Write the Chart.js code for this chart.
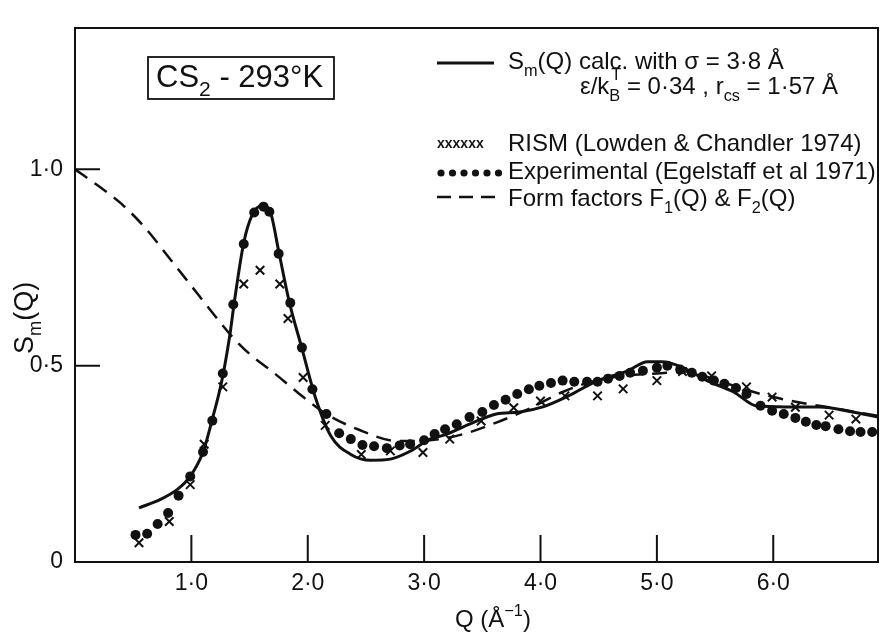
<!DOCTYPE html>
<html>
<head>
<meta charset="utf-8">
<title>CS2 - 293 K structure factor</title>
<script src="https://cdn.jsdelivr.net/npm/chart.js@4.4.1/dist/chart.umd.min.js"></script>
<style>
  html, body { margin: 0; padding: 0; background: #fff; }
  canvas { display: block; }
</style>
</head>
<body>
<canvas id="sqChart" width="886" height="632"></canvas>
<script>
// S_m(Q) of liquid CS2 at 293 K: calculation, RISM, experiment and form factors

const calcQ = [0.55, 0.73, 0.88, 0.99, 1.10, 1.18, 1.26, 1.33, 1.37, 1.45, 1.52, 1.61, 1.68, 1.75, 1.84, 1.95, 2.07, 2.20, 2.37, 2.54, 2.71, 2.88, 3.05, 3.17, 3.39, 3.62, 3.82, 4.02, 4.24, 4.47, 4.75, 4.92, 5.04, 5.21, 5.43, 5.66, 5.86, 6.11, 6.40, 6.68, 6.90];
const calcS = [0.138, 0.159, 0.185, 0.218, 0.28, 0.364, 0.459, 0.577, 0.664, 0.813, 0.882, 0.908, 0.89, 0.792, 0.664, 0.544, 0.415, 0.32, 0.274, 0.259, 0.262, 0.282, 0.313, 0.323, 0.351, 0.377, 0.382, 0.395, 0.423, 0.459, 0.487, 0.51, 0.51, 0.497, 0.462, 0.433, 0.397, 0.395, 0.395, 0.382, 0.369];

const rismQ = [0.55, 0.81, 0.99, 1.11, 1.27, 1.45, 1.59, 1.76, 1.83, 1.96, 2.15, 2.46, 2.71, 2.99, 3.22, 3.49, 3.77, 4.00, 4.21, 4.49, 4.71, 5.00, 5.22, 5.47, 5.77, 5.99, 6.19, 6.48, 6.71];
const rismS = [0.049, 0.103, 0.197, 0.30, 0.446, 0.708, 0.743, 0.708, 0.62, 0.47, 0.348, 0.274, 0.283, 0.279, 0.313, 0.359, 0.393, 0.41, 0.423, 0.423, 0.441, 0.462, 0.485, 0.474, 0.446, 0.42, 0.394, 0.374, 0.364];

const expQ = [0.52, 0.62, 0.71, 0.80, 0.89, 0.99, 1.10, 1.18, 1.27, 1.36, 1.45, 1.54, 1.62, 1.67, 1.75, 1.85, 1.95, 2.04, 2.16, 2.27, 2.37, 2.47, 2.57, 2.68, 2.79, 2.88, 3.00, 3.09, 3.18, 3.28, 3.39, 3.50, 3.60, 3.70, 3.80, 3.90, 3.99, 4.09, 4.19, 4.29, 4.40, 4.49, 4.58, 4.68, 4.77, 4.88, 5.00, 5.09, 5.20, 5.30, 5.39, 5.49, 5.58, 5.68, 5.77, 5.89, 5.99, 6.09, 6.19, 6.28, 6.37, 6.45, 6.56, 6.66, 6.75, 6.85];
const expS = [0.069, 0.072, 0.097, 0.125, 0.169, 0.218, 0.28, 0.36, 0.48, 0.656, 0.81, 0.89, 0.905, 0.892, 0.785, 0.66, 0.546, 0.44, 0.377, 0.328, 0.313, 0.298, 0.295, 0.29, 0.297, 0.30, 0.31, 0.326, 0.338, 0.351, 0.369, 0.382, 0.40, 0.413, 0.428, 0.44, 0.449, 0.456, 0.462, 0.459, 0.459, 0.459, 0.467, 0.474, 0.482, 0.487, 0.495, 0.50, 0.49, 0.482, 0.472, 0.462, 0.454, 0.443, 0.428, 0.398, 0.385, 0.377, 0.367, 0.357, 0.349, 0.346, 0.338, 0.333, 0.331, 0.331];

const formQ = [0, 0.20, 0.40, 0.60, 0.80, 1.00, 1.20, 1.35, 1.50, 1.70, 1.92, 2.16, 2.43, 2.77, 3.05, 3.34, 3.62, 3.90, 4.19, 4.45, 4.75, 5.00, 5.25, 5.50, 5.75, 6.00, 6.25, 6.50, 6.90];
const formS = [1.0, 0.958, 0.912, 0.852, 0.778, 0.703, 0.628, 0.574, 0.53, 0.484, 0.43, 0.377, 0.338, 0.308, 0.31, 0.326, 0.355, 0.39, 0.433, 0.46, 0.475, 0.48, 0.485, 0.465, 0.44, 0.42, 0.405, 0.393, 0.372];

const qTicks = [1, 2, 3, 4, 5, 6];
const qTickLabels = ['1·0', '2·0', '3·0', '4·0', '5·0', '6·0'];
const sTicks = [0, 0.5, 1.0];
const sTickLabels = ['0', '0·5', '1·0'];

const FONT = "'Liberation Sans', Arial, sans-serif";
const INK = '#111';

const pts = (xs, ys) => xs.map((x, i) => ({ x: x, y: ys[i] }));

// text with sub/superscripts; a part may carry `over` for a stacked superscript
function drawRich(ctx, x, y, parts, size) {
  let cx = x;
  parts.forEach(p => {
    if (typeof p === 'string') p = { t: p };
    let fs = size, dy = 0;
    if (p.sub) { fs = size * 0.68; dy = size * 0.3; }
    if (p.sup) { fs = size * 0.68; dy = -size * 0.45; }
    ctx.font = `${fs}px ${FONT}`;
    ctx.fillText(p.t, cx, y + dy);
    let w = ctx.measureText(p.t).width;
    if (p.over) {
      ctx.fillText(p.over, cx + 2, y - size * 0.6);
      w = Math.max(w, ctx.measureText(p.over).width);
    }
    cx += w;
  });
  return cx;
}

const decorations = {
  id: 'decorations',
  afterDraw(chart) {
    const ctx = chart.ctx;
    const a = chart.chartArea;
    const xs = chart.scales.x, ys = chart.scales.y;
    ctx.save();
    ctx.strokeStyle = INK;
    ctx.fillStyle = INK;
    ctx.lineWidth = 2;
    ctx.setLineDash([]);

    // frame
    ctx.strokeRect(a.left, a.top, a.right - a.left, a.bottom - a.top);

    // inward tick marks
    ctx.beginPath();
    qTicks.forEach(v => {
      const px = xs.getPixelForValue(v);
      ctx.moveTo(px, a.bottom);
      ctx.lineTo(px, a.bottom - 27);
    });
    sTicks.filter(v => v > 0).forEach(v => {
      const py = ys.getPixelForValue(v);
      ctx.moveTo(a.left, py);
      ctx.lineTo(a.left + 25, py);
    });
    ctx.stroke();

    ctx.textBaseline = 'alphabetic';
    ctx.textAlign = 'left';

    // sample label box
    ctx.lineWidth = 1.8;
    ctx.strokeRect(148, 57, 186, 42);
    drawRich(ctx, 156, 87, ['CS', { t: '2', sub: true }, ' - 293°K'], 31);

    // legend
    const lx0 = 437, lx1 = 498, tx = 508, fs = 24;
    ctx.lineWidth = 3;
    ctx.beginPath();
    ctx.moveTo(lx0, 63); ctx.lineTo(lx1 - 4, 63);
    ctx.stroke();
    drawRich(ctx, tx, 69, ['S', { t: 'm', sub: true }, '(Q) calc. with σ = 3·8 Å'], fs);
    drawRich(ctx, 580, 94, ['ε/k', { t: 'B', sub: true, over: 'T' }, ' = 0·34 , r', { t: 'cs', sub: true }, ' = 1·57 Å'], fs);

    ctx.font = `bold 14px ${FONT}`;
    ctx.fillText('xxxxxx', lx0, 148);
    drawRich(ctx, tx, 151, ['RISM (Lowden & Chandler 1974)'], fs);

    for (let i = 0; i < 6; i++) {
      ctx.beginPath();
      ctx.arc(lx0 + 4 + i * 11.5, 173, 3.6, 0, Math.PI * 2);
      ctx.fill();
    }
    drawRich(ctx, tx, 179, ['Experimental (Egelstaff et al 1971)'], fs);

    ctx.lineWidth = 2.5;
    ctx.setLineDash([14, 8]);
    ctx.beginPath();
    ctx.moveTo(lx0, 197); ctx.lineTo(lx1, 197);
    ctx.stroke();
    ctx.setLineDash([]);
    drawRich(ctx, tx, 206, ['Form factors F', { t: '1', sub: true }, '(Q) & F', { t: '2', sub: true }, '(Q)'], fs);

    // axis titles
    drawRich(ctx, 455, 627, ['Q (Å', { t: '−1', sup: true }, ')'], 24);
    ctx.translate(33, 354);
    ctx.rotate(-Math.PI / 2);
    drawRich(ctx, 0, 0, ['S', { t: 'm', sub: true }, '(Q)'], 27);
    ctx.restore();
  }
};

new Chart(document.getElementById('sqChart'), {
  type: 'scatter',
  data: {
    datasets: [
      {
        label: 'Sm(Q) calc.',
        data: pts(calcQ, calcS),
        showLine: true,
        cubicInterpolationMode: 'monotone',
        borderColor: INK,
        borderWidth: 3,
        pointRadius: 0,
        order: 3
      },
      {
        label: 'Form factors',
        data: pts(formQ, formS),
        showLine: true,
        cubicInterpolationMode: 'monotone',
        borderColor: INK,
        borderWidth: 2.5,
        borderDash: [15, 9],
        pointRadius: 0,
        order: 4
      },
      {
        label: 'Experimental',
        data: pts(expQ, expS),
        pointStyle: 'circle',
        pointRadius: 5,
        backgroundColor: INK,
        borderWidth: 0,
        order: 2
      },
      {
        label: 'RISM',
        data: pts(rismQ, rismS),
        pointStyle: 'crossRot',
        pointRadius: 6,
        borderColor: INK,
        borderWidth: 2,
        order: 1
      }
    ]
  },
  options: {
    responsive: false,
    animation: false,
    devicePixelRatio: 1,
    layout: { padding: { top: 28, right: 2, left: 0, bottom: 0 } },
    plugins: {
      legend: { display: false },
      tooltip: { enabled: false }
    },
    scales: {
      x: {
        type: 'linear',
        min: 0,
        max: 6.9,
        afterBuildTicks: s => { s.ticks = qTicks.map(v => ({ value: v })); },
        afterFit: s => { s.height = 70; },
        grid: { display: false, drawTicks: false },
        border: { display: false },
        ticks: {
          padding: 8,
          color: INK,
          font: { family: FONT, size: 23 },
          callback: v => qTickLabels[qTicks.indexOf(v)]
        }
      },
      y: {
        type: 'linear',
        min: 0,
        max: 1.36,
        afterBuildTicks: s => { s.ticks = sTicks.map(v => ({ value: v })); },
        afterFit: s => { s.width = 75; },
        grid: { display: false, drawTicks: false },
        border: { display: false },
        ticks: {
          padding: 12,
          color: INK,
          font: { family: FONT, size: 23 },
          callback: v => sTickLabels[sTicks.indexOf(v)]
        }
      }
    }
  },
  plugins: [decorations]
});
</script>
</body>
</html>
